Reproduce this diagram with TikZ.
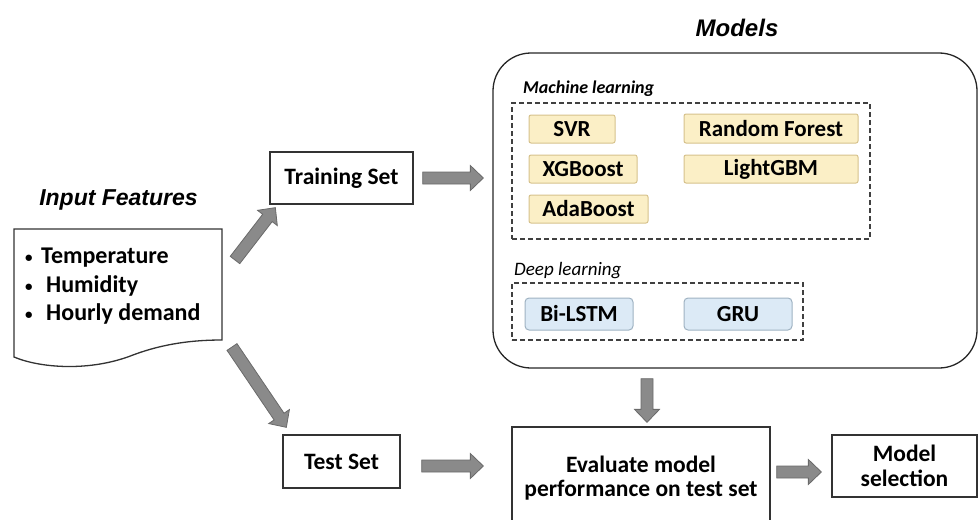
\documentclass[tikz,border=0pt]{standalone}
\usepackage{fontspec}
\setmainfont{Carlito}
\newfontfamily\arialf{Liberation Sans}
\usetikzlibrary{calc}
\definecolor{mlfill}{HTML}{FBEFC6}
\definecolor{mlborder}{HTML}{D6C28C}
\definecolor{dlfill}{HTML}{DCEAF6}
\definecolor{dlborder}{HTML}{9FB2C2}
\definecolor{arrfill}{HTML}{8A8A8A}
\definecolor{arrdraw}{HTML}{6A6A6A}
\newcommand\blockarrow[2]{%
  \coordinate (bah) at ($(#2)!13pt!(#1)$);
  \draw[barrow] ($(#1)!6pt!90:(#2)$) -- ($(bah)!6pt!90:(#2)$) -- ($(bah)!12.5pt!90:(#2)$) -- (#2)
    -- ($(bah)!12.5pt!-90:(#2)$) -- ($(bah)!6pt!-90:(#2)$) -- ($(#1)!6pt!-90:(#2)$) -- cycle;}
\newcommand\smallbullet{\raisebox{1pt}{\fontsize{15}{15}\selectfont•}}
\begin{document}
\begin{tikzpicture}[x=1pt,y=-1pt,
  box/.style={draw=black!80, line width=1.3pt, fill=white, font=\fontsize{23.5}{24}\selectfont\bfseries, align=center, inner sep=0pt},
  mlbox/.style={draw=mlborder, fill=mlfill, line width=1pt, rounded corners=2pt, font=\fontsize{23}{24}\selectfont\bfseries, inner sep=0pt},
  dlbox/.style={draw=dlborder, fill=dlfill, line width=1pt, rounded corners=4pt, font=\fontsize{23}{24}\selectfont\bfseries, inner sep=0pt},
  dashbox/.style={draw=black!75, line width=1.3pt, dash pattern=on 5pt off 3pt, inner sep=0pt},
  barrow/.style={fill=arrfill, draw=arrdraw, line width=0.8pt, line join=miter},
  feat/.style={anchor=base west, inner sep=0pt, font=\fontsize{24}{24}\selectfont\bfseries},
  title/.style={anchor=base, inner sep=0pt, font=\arialf\bfseries\itshape\fontsize{23}{25}\selectfont}
]
\useasboundingbox (0,0) rectangle (979,519);

% titles
\node[title, font=\arialf\bfseries\itshape\fontsize{24}{26}\selectfont] (modtitle) at (737,37) {Models};
\node[title] (inputtitle) at (118.5,205) {Input Features};

% input document
\draw[line width=1.3pt, draw=black!80, fill=white] (14,229) -- (222,229) -- (222,340)
  .. controls (195,340) and (165,343) .. (133,355)
  .. controls (90,372) and (40,368) .. (14,357) -- cycle;
\node[feat] (f1) at (25,263) {\makebox[16pt][l]{\smallbullet}Temperature};
\node[feat] (f2) at (25,292) {\makebox[21pt][l]{\smallbullet}Humidity};
\node[feat] (f3) at (25,320) {\makebox[21pt][l]{\smallbullet}Hourly demand};

% boxes
\node[box, minimum width=143, minimum height=52] (train) at (341.5,178) {Training Set};
\node[box, minimum width=117, minimum height=53] (test) at (341.5,461.5) {Test Set};
\node[box, minimum width=258, minimum height=102] (eval) at (641,478) {Evaluate model\\performance on test set};
\node[box, minimum width=145, minimum height=62, font=\fontsize{23.5}{25}\selectfont\bfseries] (modsel) at (904.5,466) {Model\\selection};

% models container
\node[draw=black!85, line width=1.3pt, rounded corners=38pt, minimum width=484, minimum height=315, inner sep=0pt] (models) at (735,210.5) {};
\node[anchor=base west, inner sep=0pt, font=\bfseries\itshape\fontsize{18}{20}\selectfont] (mllabel) at (523,93) {Machine learning};
\node[dashbox, minimum width=358, minimum height=136] (mlgroup) at (691,171) {};
\node[anchor=base west, inner sep=0pt, font=\itshape\fontsize{19}{21}\selectfont] (dllabel) at (514,275) {Deep learning};
\node[dashbox, minimum width=291, minimum height=57] (dlgroup) at (657.5,311.5) {};

\node[mlbox, minimum width=86, minimum height=28] (svr) at (572,129) {SVR};
\node[mlbox, minimum width=174, minimum height=29] (rf) at (771,128.5) {Random Forest};
\node[mlbox, minimum width=108, minimum height=28] (xgb) at (583,169) {XGBoost};
\node[mlbox, minimum width=174, minimum height=28] (lgbm) at (771,169) {LightGBM};
\node[mlbox, minimum width=119, minimum height=28] (ada) at (588.5,209) {AdaBoost};
\node[dlbox, minimum width=108, minimum height=32] (bilstm) at (579,314) {Bi-LSTM};
\node[dlbox, minimum width=108, minimum height=32] (gru) at (738,314) {GRU};

% arrow end points
\coordinate (a1s) at (235,260);
\coordinate (a1e) at ($(train.south west)+(6,3)$);
\coordinate (a2s) at (232,347);
\coordinate (a2e) at ($(test.north west)+(4,-7)$);
\coordinate (a3s) at ($(train.east)+(9,0)$);
\coordinate (a3e) at ($(models.west |- train.east)+(-9,0)$);
\coordinate (a4s) at ($(models.south -| eval.north)+(6,10)$);
\coordinate (a4e) at ($(eval.north)+(6,-4)$);
\coordinate (a5s) at ($(test.east)+(21,4.5)$);
\coordinate (a5e) at ($(eval.west |- a5s)+(-28,0)$);
\coordinate (a6s) at ($(eval.east |- modsel.east)+(6,6)$);
\coordinate (a6e) at ($(modsel.west)+(-10,6)$);

\blockarrow{a1s}{a1e}
\blockarrow{a2s}{a2e}
\blockarrow{a3s}{a3e}
\blockarrow{a4s}{a4e}
\blockarrow{a5s}{a5e}
\blockarrow{a6s}{a6e}
\end{tikzpicture}
\end{document}
